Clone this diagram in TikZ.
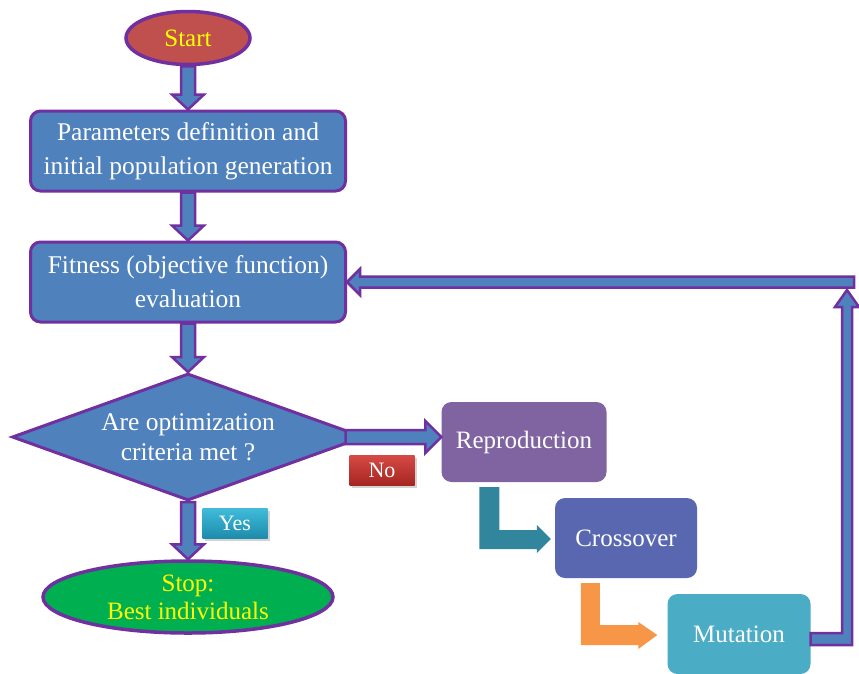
\documentclass[tikz,border=0pt]{standalone}
\usepackage{fontspec}
\setmainfont{Liberation Serif}
\usetikzlibrary{shapes.geometric,calc,shadows}

\definecolor{fcblue}{RGB}{79,129,189}
\definecolor{fcpurple}{RGB}{112,48,160}
\definecolor{fcred}{RGB}{192,80,77}
\definecolor{fcgreen}{RGB}{0,176,80}
\definecolor{fcyellow}{RGB}{255,255,0}
\definecolor{reprocol}{RGB}{128,100,162}
\definecolor{crosscol}{RGB}{89,103,177}
\definecolor{mutcol}{RGB}{75,172,198}
\definecolor{tealcol}{RGB}{49,133,156}
\definecolor{orangecol}{RGB}{247,150,70}

% block arrow: [style]{from}{to}{half shaft}{half head}{head length}
\newcommand{\blockarrow}[6][barrow]{%
  \path ($(#3)!#6!(#2)$) coordinate (ahb);
  \draw[#1] ($(#2)!#4!90:(#3)$) -- ($(ahb)!#4!-90:(#2)$) -- ($(ahb)!#5!-90:(#2)$) -- (#3)
    -- ($(ahb)!#5!90:(#2)$) -- ($(ahb)!#4!90:(#2)$) -- ($(#2)!#4!-90:(#3)$) -- cycle;}

\begin{document}
\begin{tikzpicture}[x=1pt,y=-1pt,
  terminal/.style={ellipse, draw=fcpurple, line width=3.5pt, text=fcyellow, inner sep=0pt, align=center, font=\fontsize{25}{28}\selectfont},
  process/.style={draw=fcpurple, line width=3pt, fill=fcblue, rounded corners=10pt, text=white, align=center, minimum width=315pt, minimum height=80pt, inner sep=0pt, font=\fontsize{25.5}{34}\selectfont},
  decision/.style={diamond, draw=fcpurple, line width=3pt, fill=fcblue, minimum width=352pt, minimum height=127pt, inner sep=0pt},
  dectext/.style={text=white, align=center, font=\fontsize{25.5}{30}\selectfont},
  gastep/.style={rounded corners=10pt, text=white, minimum height=80pt, font=\fontsize{25}{30}\selectfont},
  tag/.style={minimum width=65pt, minimum height=30pt, inner sep=0pt, text=white, font=\fontsize{22}{26}\selectfont, drop shadow={shadow xshift=2pt, shadow yshift=-3pt, opacity=0.35}},
  barrow/.style={draw=fcpurple, fill=fcblue, line width=2.5pt, line join=miter}]
\useasboundingbox (0,0) rectangle (859,673);

\node[terminal, fill=fcred, minimum width=124pt, minimum height=53pt] (start) at (188,38) {Start};
\node[process] (param) at (188,151) {Parameters definition and\\initial population generation};
\node[process] (fit) at (188,282) {Fitness (objective function)\\evaluation};
\node[decision, label={[dectext]center:{Are optimization\\criteria met ?}}] (dec) at (188,437) {};
\node[terminal, fill=fcgreen, minimum width=290pt, minimum height=72pt] (stop) at (188,597) {Stop:\\Best individuals};

\node[gastep, fill=reprocol, minimum width=165pt] (repro) at (524,442) {Reproduction};
\node[gastep, fill=crosscol, minimum width=142pt] (cross) at (626,538) {Crossover};
\node[gastep, fill=mutcol, minimum width=143pt] (mut) at (739,634) {Mutation};

\node[tag, top color={rgb,255:red,214;green,74;blue,68}, bottom color={rgb,255:red,166;green,38;blue,34}] (no) at (382,470) {No};
\node[tag, top color={rgb,255:red,64;green,188;blue,218}, bottom color={rgb,255:red,30;green,140;blue,172}] (yes) at (235,523) {Yes};

% main flow
\blockarrow{start.south}{param.north}{7pt}{16pt}{15pt}
\blockarrow{param.south}{fit.north}{7pt}{16pt}{15pt}
\blockarrow{fit.south}{dec.north}{7pt}{16pt}{15pt}
\blockarrow{dec.south}{stop.north}{7pt}{16pt}{15pt}
\coordinate (noout) at ($(dec.east)+(-20,0)$);
\coordinate (repin) at (noout -| repro.west);
\blockarrow{noout}{repin}{7pt}{16pt}{16pt}

% GA steps
\coordinate (rc) at ($(cross.west)+(-4,1)$);
\fill[tealcol] ($(repro.south west)+(38,5)$) -- ++(20,0) |- ($(rc)+(-14,-9)$) -- ++(0,-5) -- (rc)
  -- ($(rc)+(-14,14)$) -- ++(0,-4) -| ($(repro.south west)+(38,5)$) -- cycle;
\coordinate (mc) at ($(mut.west)+(-10,1)$);
\fill[orangecol] ($(cross.south west)+(26,5)$) -- ++(19,0) |- ($(mc)+(-19,-10)$) -- ++(0,-3) -- (mc)
  -- ($(mc)+(-19,14)$) -- ++(0,-4) -| ($(cross.south west)+(26,5)$) -- cycle;

% loop back
\coordinate (fbt) at (847,290);
\draw[barrow] ($(mut.east)+(0,-1)$) -| ($(fbt)+(-5,17)$) -- ++(-7,0) -- (fbt) -- ($(fbt)+(12,17)$)
  -- ++(-7,0) |- ($(mut.east)+(0,11)$) -- cycle;
\coordinate (fbc) at (854,282);
\blockarrow{fbc}{fit.east}{5.5pt}{13pt}{13pt}
\end{tikzpicture}
\end{document}
